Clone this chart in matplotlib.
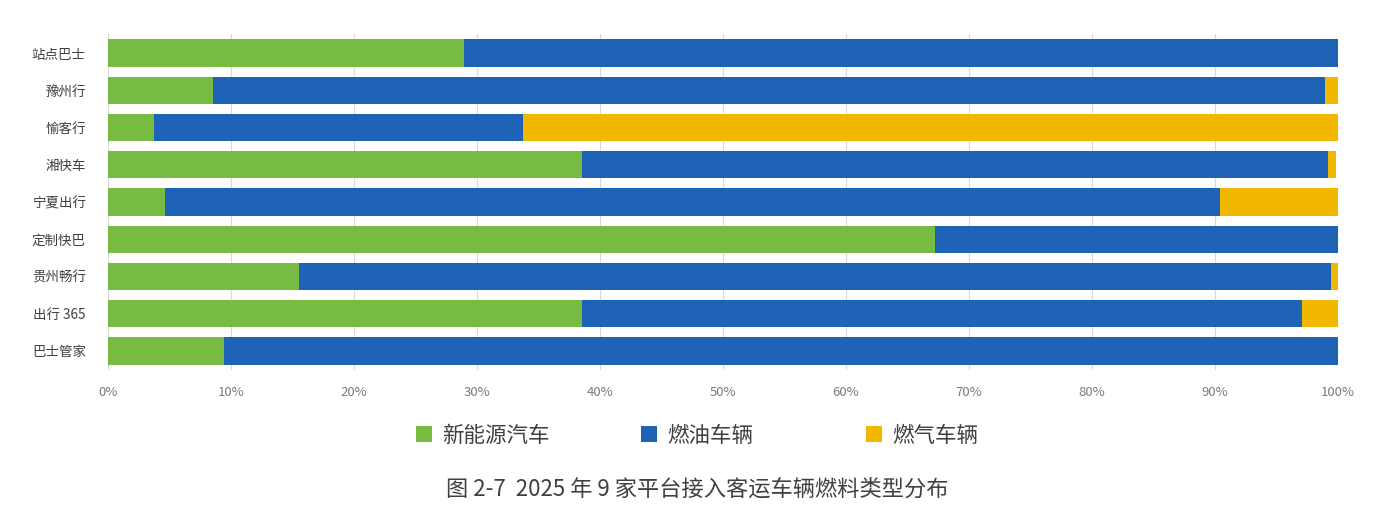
import matplotlib.pyplot as plt
from matplotlib.ticker import PercentFormatter

plt.rcParams['font.family'] = ['Noto Sans CJK SC', 'DejaVu Sans']

# data (percent of vehicles), top to bottom
platforms = ['站点巴士', '豫州行', '愉客行', '湘快车', '宁夏出行', '定制快巴', '贵州畅行', '出行 365', '巴士管家']
new_energy = [28.9, 8.5, 3.7, 38.5, 4.6, 67.2, 15.5, 38.5, 9.4]
fuel_oil = [71.1, 90.4, 30.0, 60.7, 85.8, 32.8, 83.9, 58.6, 90.6]
fuel_gas = [0.0, 1.1, 66.3, 0.6, 9.6, 0.0, 0.6, 2.9, 0.0]
series_names = ['新能源汽车', '燃油车辆', '燃气车辆']
colors = ['#78BB43', '#1F63B6', '#F2B800']
title = '图 2-7  2025 年 9 家平台接入客运车辆燃料类型分布'

fig = plt.figure(figsize=(13.78, 5.22), dpi=100)
ax = fig.add_axes([0.0784, 0.292, 0.8926, 0.642])

y = list(range(len(platforms)))
left = [0.0] * len(platforms)
handles = []
for vals, name, col in zip([new_energy, fuel_oil, fuel_gas], series_names, colors):
    bars = ax.barh(y, vals, left=left, height=0.73, color=col, label=name, zorder=3)
    handles.append(bars)
    left = [a + b for a, b in zip(left, vals)]

ax.set_yticks(y)
ax.set_yticklabels(platforms, fontsize=9.7, color='#404040')
ax.set_ylim(len(platforms) - 0.5, -0.5)
ax.set_xlim(0, 100)
ax.set_xticks(range(0, 101, 10))
ax.xaxis.set_major_formatter(PercentFormatter(decimals=0))
ax.tick_params(axis='x', labelsize=9.5, colors='#7a7a7a', length=0, pad=12)
ax.tick_params(axis='y', length=0, pad=16)
ax.grid(axis='x', color='#d9d9d9', linewidth=0.8, zorder=0)
for s in ax.spines.values():
    s.set_visible(False)

# legend entries are evenly spaced, so place each one separately
for i, (h, name) in enumerate(zip(handles, series_names)):
    leg = fig.legend([h], [name], loc='center left',
                     bbox_to_anchor=((416 + 225 * i) / 1378, 0.165),
                     frameon=False, borderpad=0, borderaxespad=0,
                     fontsize=15.5, handlelength=0.75, handleheight=0.75,
                     handletextpad=0.45, labelcolor='#404040')

fig.text(0.506, 0.063, title, ha='center', va='center', fontsize=16, color='#404040')

fig.savefig('out.png', dpi=100)
